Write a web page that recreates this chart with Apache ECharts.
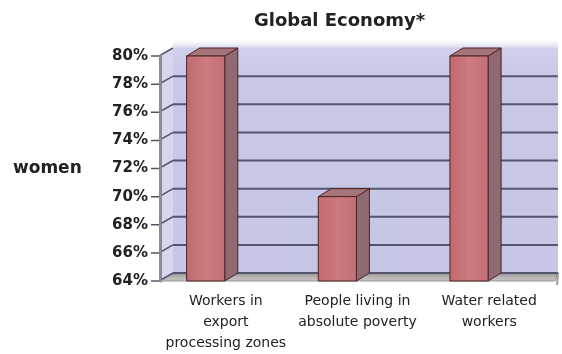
<!DOCTYPE html>
<html>
<head>
<meta charset="utf-8">
<script src="https://cdn.jsdelivr.net/npm/echarts@6/dist/echarts.min.js"></script>
<style>
  html, body { margin: 0; padding: 0; background: #ffffff; }
  #chart { width: 562px; height: 354px; }
</style>
</head>
<body>
<div id="chart"></div>
<script>
// ---- data ----
const titleText = 'Global Economy*';
const yAxisName = 'women';
const categories = ['Workers in\nexport\nprocessing zones', 'People living in\nabsolute poverty', 'Water related\nworkers'];
const values = [80, 70, 80];
const yMin = 64;
const yMax = 80;
const yStep = 2;
const yTicks = [64, 66, 68, 70, 72, 74, 76, 78, 80];

// ---- style ----
const DX = 13, DY = -8;
const FONT = '"DejaVu Sans", "Liberation Sans", Arial, sans-serif';

const chart = echarts.init(document.getElementById('chart'), null, { renderer: 'canvas' });

function renderBackground(params, api) {
  const cs = params.coordSys;
  const yTop = api.coord([0, yMax])[1];
  const yBot = api.coord([0, yMin])[1];
  const xL = cs.x, xR = cs.x + cs.width;
  const children = [];
  children.push({
    type: 'rect',
    shape: { x: xL + DX, y: yTop + DY - 8, width: xR + 3 - xL - DX, height: 8 },
    style: { fill: new echarts.graphic.LinearGradient(0, 0, 0, 1, [
      { offset: 0, color: 'rgba(230,230,245,0)' },
      { offset: 1, color: 'rgba(215,215,238,1)' }
    ]) }
  });
  children.push({
    type: 'rect',
    shape: { x: xL + DX, y: yTop + DY, width: xR + 3 - xL - DX, height: yBot - yTop },
    style: { fill: new echarts.graphic.LinearGradient(0, 0, 0, 1, [
      { offset: 0, color: '#d0d0ec' },
      { offset: 0.15, color: '#c8c8e7' },
      { offset: 1, color: '#c6c6e6' }
    ]) }
  });
  children.push({
    type: 'polygon',
    shape: { points: [[xL, yTop], [xL + DX, yTop + DY], [xL + DX, yBot + DY], [xL, yBot]] },
    style: { fill: '#d6d6ef' }
  });
  children.push({
    type: 'polygon',
    shape: { points: [[xL, yBot], [xR, yBot], [xR + 3, yBot + DY], [xL + DX, yBot + DY]] },
    style: { fill: new echarts.graphic.LinearGradient(0, 0, 0, 1, [
      { offset: 0, color: '#8e8c94' },
      { offset: 0.5, color: '#b8b4b4' },
      { offset: 1, color: '#c8c4c2' }
    ]), stroke: '#9a9898', lineWidth: 1 }
  });
  children.push({
    type: 'line',
    shape: { x1: xR + 3, y1: yBot + DY, x2: xR + 2, y2: yBot + 4 },
    style: { stroke: '#9a9a9a', lineWidth: 2 }
  });
  yTicks.forEach(function (t) {
    const yf = api.coord([0, t])[1];
    if (t !== yMax) {
      children.push({
        type: 'line',
        shape: { x1: xL + DX, y1: yf + DY, x2: xR + 3, y2: yf + DY },
        style: { stroke: '#54546e', lineWidth: 2 }
      });
    }
    children.push({
      type: 'polyline',
      shape: { points: [[xL - 9, yf], [xL - 1, yf], [xL + DX, yf + DY]] },
      style: { stroke: '#55556a', lineWidth: 1.5, fill: null }
    });
  });
  return { type: 'group', children: children };
}

function renderBar(params, api) {
  const i = api.value(0);
  const v = api.value(1);
  const top = api.coord([i, v]);
  const base = api.coord([i, yMin]);
  const band = api.size([1, 0])[0];
  const w = band * 0.29;
  const cx = top[0] - band * 0.153;
  const x0 = cx - w / 2, x1 = cx + w / 2;
  const yT = top[1], yB = base[1];
  const stroke = '#4a2426';
  return {
    type: 'group',
    children: [
      {
        type: 'polygon',
        shape: { points: [[x1, yT], [x1 + DX, yT + DY], [x1 + DX, yB + DY], [x1, yB]] },
        style: { fill: '#8f6a70', stroke: stroke, lineWidth: 1 }
      },
      {
        type: 'polygon',
        shape: { points: [[x0, yT], [x0 + DX, yT + DY], [x1 + DX, yT + DY], [x1, yT]] },
        style: { fill: '#a6757a', stroke: stroke, lineWidth: 1 }
      },
      {
        type: 'rect',
        shape: { x: x0, y: yT, width: w, height: yB - yT },
        style: { fill: new echarts.graphic.LinearGradient(0, 0, 1, 0, [
          { offset: 0, color: '#c06a70' },
          { offset: 0.5, color: '#cc7a7e' },
          { offset: 1, color: '#c27076' }
        ]), stroke: stroke, lineWidth: 1 }
      }
    ]
  };
}

const option = {
  backgroundColor: '#ffffff',
  animation: false,
  graphic: [
    {
      type: 'text', left: 254, top: 12,
      style: { text: titleText, fill: '#222222', font: 'bold 18px ' + FONT }
    },
    {
      type: 'text', left: 13, top: 160,
      style: { text: yAxisName, fill: '#222222', font: 'bold 17px ' + FONT }
    }
  ],
  grid: { left: 160, right: 7, top: 56, bottom: 72 },
  xAxis: {
    type: 'category',
    data: categories,
    axisLine: { show: false },
    axisTick: { show: false },
    splitLine: { show: false },
    axisLabel: {
      interval: 0,
      margin: 10,
      color: '#222222',
      fontFamily: FONT,
      fontSize: 14,
      lineHeight: 21
    }
  },
  yAxis: {
    type: 'value',
    min: yMin,
    max: yMax,
    interval: yStep,
    axisLine: { show: true, lineStyle: { color: '#8c8c8c', width: 3 } },
    axisTick: { show: false },
    splitLine: { show: false },
    axisLabel: {
      formatter: '{value}%',
      margin: 12,
      color: '#222222',
      fontFamily: FONT,
      fontWeight: 'bold',
      fontSize: 15
    }
  },
  series: [
    {
      type: 'custom',
      z: -1,
      silent: true,
      renderItem: renderBackground,
      data: [[0, yMin]],
      encode: { x: 0, y: 1 }
    },
    {
      type: 'custom',
      z: 3,
      renderItem: renderBar,
      data: values.map(function (v, i) { return [i, v]; }),
      encode: { x: 0, y: 1 }
    }
  ]
};

chart.setOption(option);
</script>
</body>
</html>
